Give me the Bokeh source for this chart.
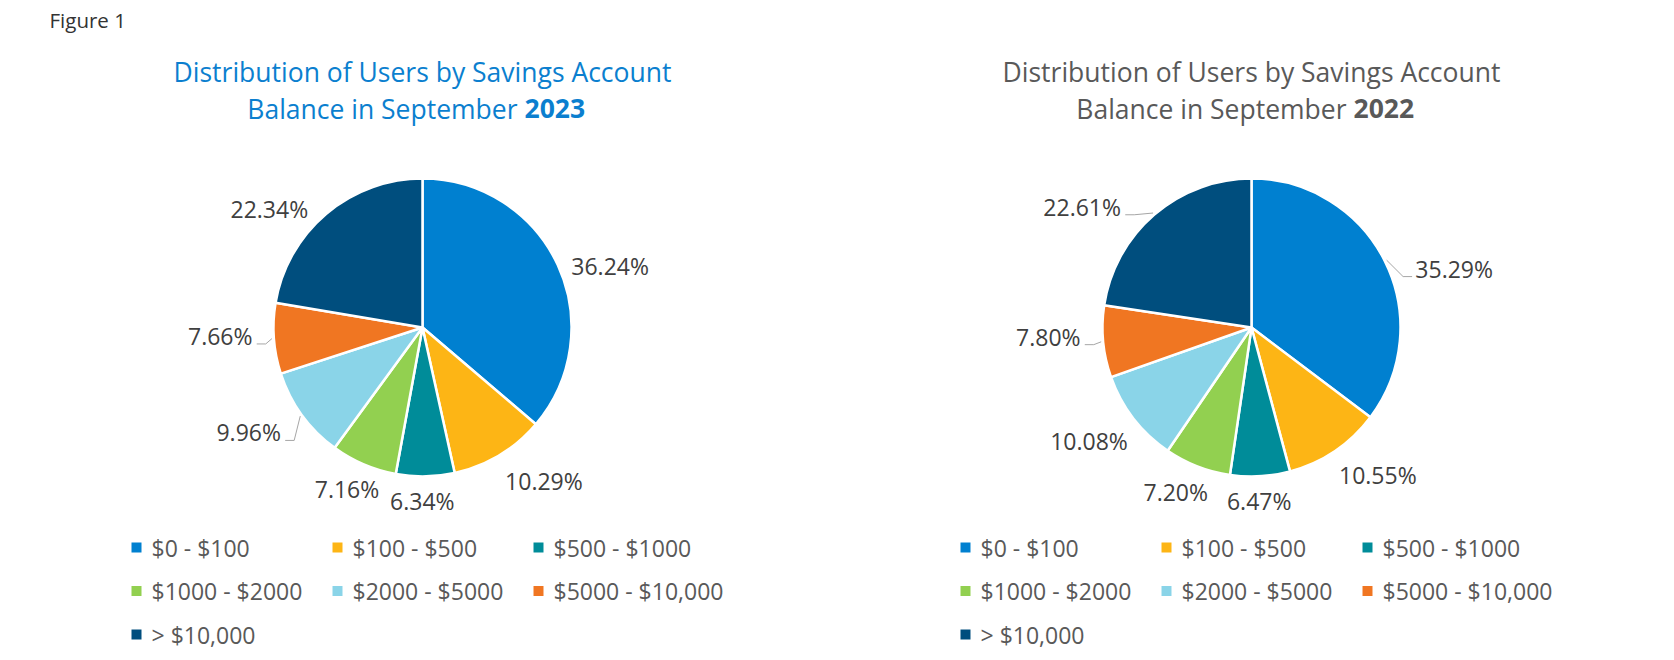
import math
from bokeh.plotting import figure
from bokeh.models import Range1d
from bokeh.embed import file_html
from bokeh.resources import INLINE
from bokeh.core.properties import value

# ---------------- data ----------------
categories = ["$0 - $100", "$100 - $500", "$500 - $1000", "$1000 - $2000",
              "$2000 - $5000", "$5000 - $10,000", "> $10,000"]
share_2023 = [36.24, 10.29, 6.34, 7.16, 9.96, 7.66, 22.34]
share_2022 = [35.29, 10.55, 6.47, 7.20, 10.08, 7.80, 22.61]
years = ["2023", "2022"]

# ---------------- styling / layout ----------------
colors = ["#0080D0", "#FDB515", "#008C99", "#92D050", "#8AD4E8", "#F07622", "#004E7E"]
FONT = "Open Sans"
W, H = 1674, 660
R = 149
LABEL_FS, LEGEND_FS, TITLE_FS = 23, 23, 26.5

# per-label placement tweaks (angle shift in degrees, distance from centre in px)
shift_2023 = [3.7, -3.2, 1.1, -1.0, 1.6, 1.5, -7.5]
dist_2023 = [162, 177, 166, 167, 178, 170, 168]
lead_2023 = [False, False, False, False, True, True, False]
shift_2022 = [7.7, -2.2, 1.1, 0.8, -1.7, 2.5, -9.6]
dist_2022 = [175, 175, 166, 169, 171, 171, 181]
lead_2022 = [True, False, False, False, False, True, True]

p = figure(width=W, height=H, x_range=Range1d(0, W), y_range=Range1d(0, H),
           output_backend="svg", toolbar_location=None, min_border=0,
           x_axis_location=None, y_axis_location=None, outline_line_color=None)
p.grid.visible = False
p.background_fill_color = "white"
p.border_fill_color = "white"


def Y(y):
    return H - y


def text_w(s, fs):
    w = 0
    for ch in s:
        if ch.isdigit():
            w += 0.572
        elif ch == ".":
            w += 0.266
        elif ch == "%":
            w += 0.842
        else:
            w += 0.5
    return w * fs


def draw_pie(cx, cy, vals, shifts, dists, leads, title_color, year):
    total = sum(vals)
    cum = 0.0
    starts, ends, mids = [], [], []
    for v in vals:
        a0 = cum / total
        cum += v
        a1 = cum / total
        starts.append(math.radians(90 - 360 * a1))
        ends.append(math.radians(90 - 360 * a0))
        mids.append(360 * (a0 + a1) / 2)
    p.wedge(x=[cx] * len(vals), y=[Y(cy)] * len(vals), radius=R,
            start_angle=starts, end_angle=ends, direction="anticlock",
            fill_color=colors, line_color="white", line_width=2.5)

    lx, ly, lt = [], [], []
    lead_xs, lead_ys = [], []
    for i, v in enumerate(vals):
        s = f"{v:.2f}%"
        w = text_w(s, LABEL_FS)
        h = 16
        th = math.radians(mids[i] + shifts[i])
        sx, cy_ = math.sin(th), math.cos(th)
        px = cx + dists[i] * sx
        py = cy - dists[i] * cy_
        tx = px + w / 2 * sx
        ty = py - h / 2 * cy_
        lx.append(tx)
        ly.append(Y(ty))
        lt.append(s)
        if leads[i]:
            thm = math.radians(mids[i])
            ex = cx + (R + 2) * math.sin(thm)
            ey = cy - (R + 2) * math.cos(thm)
            yb = ty + 8
            if sx < 0:
                x0 = tx + w / 2 + 4
                x1 = x0 + 9
            else:
                x0 = tx - w / 2 - 3
                x1 = x0 - 9
            lead_xs.append([x0, x1, ex])
            lead_ys.append([Y(yb), Y(yb), Y(ey)])
    if lead_xs:
        p.multi_line(xs=lead_xs, ys=lead_ys, line_color="#A6A6A6", line_width=1)
    p.text(x=lx, y=ly, text=lt, text_font=value(FONT), text_font_size=f"{LABEL_FS}px",
           text_color="#404040", text_align="center", text_baseline="middle")

    # title
    p.text(x=[cx], y=[Y(71)], text=["Distribution of Users by Savings Account"],
           text_font=value(FONT), text_font_size=f"{TITLE_FS}px", text_color=title_color,
           text_align="center", text_baseline="middle")
    p.text(x=[cx + 95], y=[Y(108)], text=["Balance in September"],
           text_font=value(FONT), text_font_size=f"{TITLE_FS}px", text_color=title_color,
           text_align="right", text_baseline="middle")
    p.text(x=[cx + 102], y=[Y(108)], text=[year],
           text_font=value(FONT), text_font_size=f"{TITLE_FS}px", text_color=title_color,
           text_font_style="bold", text_align="left", text_baseline="middle")

    # legend
    qx, qy, tx_, ty_ = [], [], [], []
    for i, c in enumerate(categories):
        col, row = i % 3, i // 3
        x = cx - 286 + col * 201
        y = 547 + row * 43.5
        qx.append(x)
        qy.append(Y(y))
        tx_.append(x + 15)
        ty_.append(Y(y))
    p.rect(x=qx, y=qy, width=10, height=10, fill_color=colors, line_color=None)
    p.text(x=tx_, y=ty_, text=categories, text_font=value(FONT),
           text_font_size=f"{LEGEND_FS}px", text_color="#595959",
           text_align="left", text_baseline="middle")


draw_pie(422, 327, share_2023, shift_2023, dist_2023, lead_2023, "#0B7FCF", years[0])
draw_pie(1251, 327, share_2022, shift_2022, dist_2022, lead_2022, "#595959", years[1])

p.text(x=[49], y=[Y(19)], text=["Figure 1"], text_font=value(FONT), text_font_size="20.5px",
       text_color="#333333", text_align="left", text_baseline="middle")

open("out.html", "w").write(file_html(p, INLINE))
